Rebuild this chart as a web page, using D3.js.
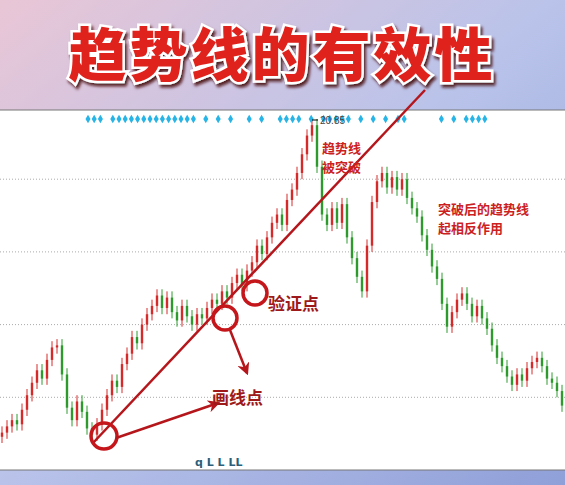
<!DOCTYPE html><html><head><meta charset="utf-8"><script src="https://cdn.jsdelivr.net/npm/d3@7"></script>
<style>body{margin:0}svg{display:block}</style></head><body><svg id="c" width="565" height="485"></svg>
<script>
const closes=[5.8,6.1,6.4,6.2,6.9,7.6,8.2,8.8,8.4,9.3,9.9,10.0,
8.6,7.0,6.4,7.3,6.8,6.0,5.7,
6.2,6.9,7.6,8.3,8.0,9.1,9.6,10.4,10.1,11.0,11.5,
11.9,12.4,11.8,12.3,11.6,11.2,11.9,11.4,11.0,11.5,11.3,11.8,12.2,
12.0,12.6,12.3,13.0,13.4,12.9,13.6,14.0,14.8,14.4,
15.2,15.9,16.3,15.8,17.0,17.5,18.3,19.2,20.1,20.6,
18.6,16.3,15.8,16.6,15.9,16.8,15.2,
14.2,13.3,12.6,14.8,16.9,
17.9,18.3,17.6,18.1,17.5,18.0,17.1,16.6,16.2,
15.3,14.6,13.8,13.2,12.0,10.9,11.6,
12.2,12.5,12.0,11.4,11.9,11.3,10.8,
10.0,9.4,9.0,8.5,8.1,8.6,8.3,
8.9,9.2,9.4,9.0,8.4,8.2,7.8,7.1];
const gridTicks=[7.5,11,14.5,18];
const peakLabel="20.85";
const diamondIdx=[0,1,2,4,5,6,7,8,9,10,11,12,13,14,15,16,17,19,21,23,26,28,31,32,33,34,36,38,39,40,41,42,44,46,48,50,51,57,59,61,62,63,64];
const svg=d3.select("#c");
const defs=svg.append("defs");
const g1=defs.append("linearGradient").attr("id","bg").attr("x1",0).attr("x2",1).attr("y1",0).attr("y2",1);
g1.append("stop").attr("offset","0").attr("stop-color","#e9c6d6");
g1.append("stop").attr("offset","0.5").attr("stop-color","#b9c3ea");
g1.append("stop").attr("offset","1").attr("stop-color","#8f9fd8");
const fl=defs.append("filter").attr("id","sh").attr("x","-10%").attr("y","-20%").attr("width","130%").attr("height","150%");
fl.append("feDropShadow").attr("dx",2).attr("dy",3).attr("stdDeviation",1.5).attr("flood-color","#4a1010").attr("flood-opacity",0.9);
svg.append("rect").attr("width",565).attr("height",485).attr("fill","url(#bg)");
svg.append("rect").attr("x",0).attr("y",110).attr("width",565).attr("height",360).attr("fill","#fff");
svg.append("line").attr("x1",0).attr("x2",565).attr("y1",110).attr("y2",110).attr("stroke","#777");
svg.append("line").attr("x1",0).attr("x2",565).attr("y1",470).attr("y2",470).attr("stroke","#777");
const x=d3.scaleLinear().domain([0,closes.length-1]).range([2,562]);
const y=d3.scaleLinear().domain([4,20.85]).range([470,120]);
svg.selectAll(".gr").data(gridTicks).join("line").attr("x1",0).attr("x2",565).attr("y1",d=>y(d)).attr("y2",d=>y(d)).attr("stroke","#aaa").attr("stroke-dasharray","1,2");
const cand=closes.map((c,i)=>{const o=i?closes[i-1]:c-0.2;return {i,o,c,h:Math.max(o,c)+0.3,l:Math.min(o,c)-0.3};});
const cg=svg.append("g");
cg.selectAll("line").data(cand).join("line").attr("x1",d=>x(d.i)).attr("x2",d=>x(d.i)).attr("y1",d=>y(d.h)).attr("y2",d=>y(d.l)).attr("stroke",d=>d.c>=d.o?"#d62a2a":"#2e9a2e");
cg.selectAll("rect").data(cand).join("rect").attr("x",d=>x(d.i)-1.2).attr("width",2.4).attr("y",d=>y(Math.max(d.o,d.c))).attr("height",d=>Math.max(1,Math.abs(y(d.o)-y(d.c)))).attr("fill",d=>d.c>=d.o?"#d62a2a":"#2e9a2e");
svg.selectAll(".dm").data(diamondIdx).join("path").attr("d",d3.symbol(d3.symbolDiamond,22)).attr("transform",d=>`translate(${88+d*6.2},119)`).attr("fill","#27b4e6");
const pk=closes.indexOf(d3.max(closes));
svg.append("line").attr("x1",x(pk)).attr("x2",x(pk)+6).attr("y1",y(20.85)).attr("y2",y(20.85)).attr("stroke","#000");
svg.append("text").attr("x",x(pk)+8).attr("y",y(20.85)+4).text(peakLabel).attr("font-size",10).attr("fill","#444").attr("font-family","Liberation Sans");
const dr="#b5161b";
defs.append("marker").attr("id","ar").attr("viewBox","0 0 10 10").attr("refX",8).attr("refY",5).attr("markerWidth",5).attr("markerHeight",5).attr("orient","auto").append("path").attr("d","M0,0L10,5L0,10L3,5Z").attr("fill",dr);
svg.append("line").attr("x1",93).attr("y1",443).attr("x2",425).attr("y2",90).attr("stroke",dr).attr("stroke-width",2.5);
[[104,436,13],[225,318,12],[255,293,12]].forEach(c=>svg.append("circle").attr("cx",c[0]).attr("cy",c[1]).attr("r",c[2]).attr("fill","none").attr("stroke","#c4161b").attr("stroke-width",3.5));
svg.append("line").attr("x1",230).attr("y1",330).attr("x2",247).attr("y2",373).attr("stroke",dr).attr("stroke-width",2.5).attr("marker-end","url(#ar)");
svg.append("line").attr("x1",116).attr("y1",438).attr("x2",218).attr("y2",403).attr("stroke",dr).attr("stroke-width",2.5).attr("marker-end","url(#ar)");
const F="Noto Sans CJK SC";
function t(s,xx,yy,fs,col){svg.append("text").attr("x",xx).attr("y",yy).text(s).attr("font-size",fs).attr("font-weight","bold").attr("fill",col).attr("font-family",F);}
t("验证点",268,310,17,"#9e1a1a");t("画线点",212,404,17,"#9e1a1a");
t("趋势线",322,153,13,"#cc1f1f");t("被突破",322,172,13,"#cc1f1f");
t("突破后的趋势线",438,214,13,"#cc1f1f");t("起相反作用",438,233,13,"#cc1f1f");
svg.append("text").attr("x",195).attr("y",466).text("q   L  L  LL").attr("font-size",11).attr("font-weight","bold").attr("fill","#2b5f7a").attr("font-family","DejaVu Sans");
svg.append("text").attr("x",282).attr("y",76).attr("text-anchor","middle").text("趋势线的有效性").attr("font-size",58).attr("font-weight","900").attr("font-family",F).attr("letter-spacing",3)
 .attr("fill","#e0201c").attr("stroke","#fff").attr("stroke-width",5).attr("paint-order","stroke").attr("filter","url(#sh)");
</script></body></html>
